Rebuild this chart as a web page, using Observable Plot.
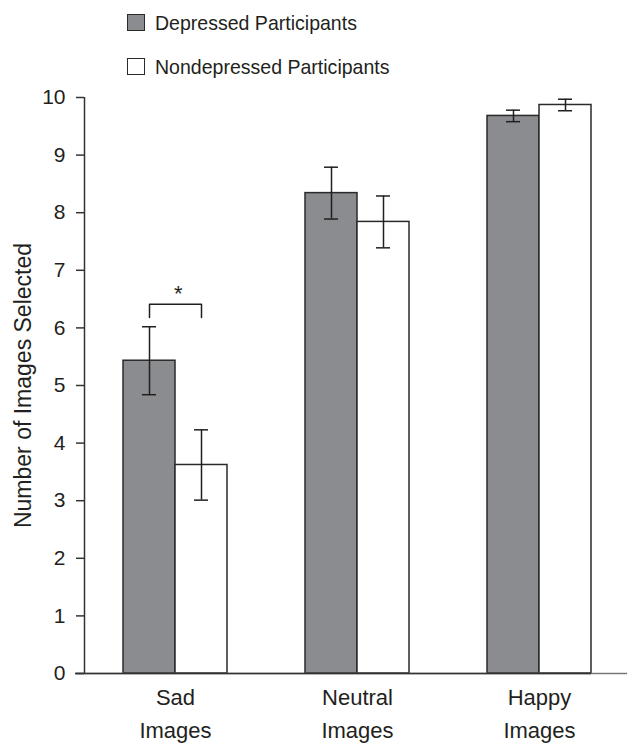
<!DOCTYPE html>
<html>
<head>
<meta charset="utf-8">
<script src="https://cdn.jsdelivr.net/npm/d3@7"></script>
<script src="https://cdn.jsdelivr.net/npm/@observablehq/plot@0.6"></script>
<style>
  body { margin: 0; background: #fff; }
  #wrap { width: 627px; position: relative; font-family: "Liberation Sans", Arial, sans-serif; color: #231f20; }
  #legend { position: relative; height: 80px; }
  .sw { position: absolute; left: 127px; width: 16px; height: 15px; border: 1.5px solid #2a2a2a; }
  .lt { position: absolute; left: 155px; font-size: 21px; line-height: 21px; white-space: nowrap; transform: scaleX(0.93); transform-origin: 0 0; }
  svg { display: block; }
</style>
</head>
<body>
<div id="wrap">
  <div id="legend"></div>
  <div id="chart"></div>
</div>
<script>
const categories = ["Sad Images", "Neutral Images", "Happy Images"];
const categoryLabels = ["Sad\nImages", "Neutral\nImages", "Happy\nImages"];
const groups = ["Depressed Participants", "Nondepressed Participants"];
const depressedMeans = [5.43, 8.34, 9.68];
const depressedSE = [0.59, 0.45, 0.10];
const nondepressedMeans = [3.62, 7.84, 9.87];
const nondepressedSE = [0.61, 0.45, 0.10];
const yTicks = [0, 1, 2, 3, 4, 5, 6, 7, 8, 9, 10];
const yLabel = "Number of Images Selected";
const significance = [{from: "Depressed Participants", to: "Nondepressed Participants", category: "Sad Images", label: "*"}];

const colors = {"Depressed Participants": "#8b8c8f", "Nondepressed Participants": "#ffffff"};
const barW = 0.2857;   // bar width in category units
const capW = 0.0385;   // half width of error-bar caps

const rows = [];
categories.forEach((c, i) => {
  rows.push({cat: c, i, group: groups[0], mean: depressedMeans[i], se: depressedSE[i], x1: i - barW, x2: i, xc: i - barW / 2});
  rows.push({cat: c, i, group: groups[1], mean: nondepressedMeans[i], se: nondepressedSE[i], x1: i, x2: i + barW, xc: i + barW / 2});
});

// significance bracket
const bracket = [];
const stars = [];
significance.forEach(s => {
  const a = rows.find(r => r.cat === s.category && r.group === s.from);
  const b = rows.find(r => r.cat === s.category && r.group === s.to);
  const top = Math.max(a.mean + a.se, b.mean + b.se);
  bracket.push({x: a.xc, y: top + 0.16}, {x: a.xc, y: top + 0.39}, {x: b.xc, y: top + 0.39}, {x: b.xc, y: top + 0.16});
  stars.push({x: (a.xc + b.xc) / 2 + 0.015, y: top + 0.39, label: s.label});
});

// legend
const legend = document.getElementById("legend");
groups.forEach((g, k) => {
  const sw = document.createElement("div");
  sw.className = "sw";
  sw.style.top = (14 + k * 44) + "px";
  sw.style.background = colors[g];
  legend.appendChild(sw);
  const t = document.createElement("div");
  t.className = "lt";
  t.style.top = (12 + k * 44) + "px";
  t.textContent = g;
  legend.appendChild(t);
});

const font = '"Liberation Sans", Arial, sans-serif';

const chart = Plot.plot({
  width: 627,
  height: 663,
  marginLeft: 84,
  marginRight: 0,
  marginTop: 17,
  marginBottom: 70,
  x: {domain: [-0.5, 2.4835], axis: null},
  y: {domain: [0, 10], axis: null},
  style: {fontFamily: font, fontSize: "21px", color: "#231f20", background: "white", overflow: "visible"},
  marks: [
    Plot.rectY(rows, {x1: "x1", x2: "x2", y1: 0, y2: "mean", fill: d => colors[d.group], stroke: "#2a2a2a", strokeWidth: 1.5}),
    Plot.ruleY([0], {x1: -0.549, x2: 2.4835, stroke: "#777", strokeWidth: 1.5}),
    Plot.ruleY([0], {x1: -0.549, x2: 2.2857, stroke: "#333", strokeWidth: 1.5}),
    Plot.ruleX(rows, {x: "xc", y1: d => d.mean - d.se, y2: d => d.mean + d.se, stroke: "#231f20", strokeWidth: 1.5}),
    Plot.ruleY(rows, {y: d => d.mean + d.se, x1: d => d.xc - capW, x2: d => d.xc + capW, stroke: "#231f20", strokeWidth: 1.5}),
    Plot.ruleY(rows, {y: d => d.mean - d.se, x1: d => d.xc - capW, x2: d => d.xc + capW, stroke: "#231f20", strokeWidth: 1.5}),
    Plot.ruleX([-0.5], {y1: 0, y2: 10, stroke: "#333", strokeWidth: 1.5}),
    Plot.axisY({ticks: yTicks, tickSize: 8, tickPadding: 11, tickFormat: d => d, fontSize: 21, stroke: "#333", strokeWidth: 1.5}),
    Plot.text([yLabel], {x: -0.5, y: 5, text: d => d, rotate: -90, dx: -61, fontSize: 23, fill: "#231f20"}),
    Plot.text([0, 1, 2], {x: d => d, y: 0, text: d => categoryLabels[d], lineAnchor: "top", dy: 8, lineHeight: 1.5, fontSize: 22, fill: "#231f20"}),
    Plot.line(bracket, {x: "x", y: "y", stroke: "#231f20", strokeWidth: 1.5, curve: "linear"}),
    Plot.text(stars, {x: "x", y: "y", text: "label", dy: -3, lineAnchor: "bottom", fontSize: 22, fill: "#231f20"})
  ]
});
document.getElementById("chart").appendChild(chart);
</script>
</body>
</html>
